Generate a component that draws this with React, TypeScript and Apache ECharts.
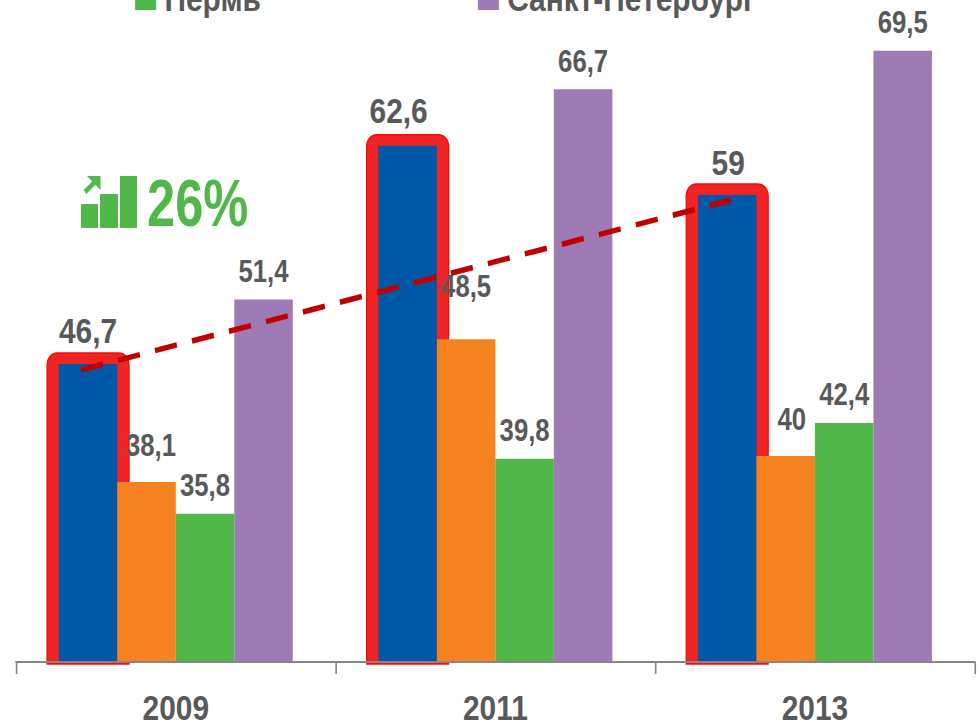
import React, { useEffect, useRef } from "react";
import * as echarts from "echarts";

const years = ["2009", "2011", "2013"];
const blueValues = [46.7, 62.6, 59];
const orangeValues = [38.1, 48.5, 40];
const greenValues = [35.8, 39.8, 42.4];
const purpleValues = [51.4, 66.7, 69.5];
const legendNames = ["Пермь", "Санкт-Петербург"];
const growthLabel = "26%";

const FONT = "'Liberation Sans', Arial, sans-serif";
const GREY = "#595959";
const W = 978, H = 722;
// The reference's type is condensed, and no narrow face is installed: the chart is laid out wider and squeezed.
const S = 0.83;
const X = (x: number) => x / S;
const BAR_W = X(58.5);

const fmt = (p: any) => String(p.value).replace(".", ",");

const labelOf = (dist: number, fontSize: number) => ({
  show: true, position: "top" as const, distance: dist, formatter: fmt,
  fontFamily: FONT, fontWeight: "bold" as const, fontSize, color: GREY,
});

const withOffsets = (vals: number[], offs: number[][]) =>
  vals.map((value, i) => ({ value, label: { offset: offs[i].map((o, k) => (k === 0 ? X(o) : o)) } }));

export default function App() {
  const ref = useRef<HTMLDivElement>(null);
  useEffect(() => {
    const chart = echarts.init(ref.current!, undefined, { renderer: "svg" });
    const G = "#50B848";
    chart.setOption({
      animation: false,
      backgroundColor: "#fff",
      grid: { left: X(16), right: X(3), top: 44, bottom: 60, outerBoundsMode: "none" },
      legend: {
        data: legendNames, left: X(131), top: -25, itemWidth: X(21), itemHeight: 24, itemGap: X(217),
        icon: "rect", selectedMode: false,
        textStyle: { fontFamily: FONT, fontWeight: "bold", fontSize: 36, color: GREY, padding: [0, 0, 0, 5] },
      },
      xAxis: {
        type: "category", data: years, z: 10,
        axisLine: { lineStyle: { color: "#868686", width: 2 } },
        axisTick: { show: true, length: 12, lineStyle: { color: "#868686", width: 2 } },
        axisLabel: { fontFamily: FONT, fontWeight: "bold", fontSize: 36, color: GREY, margin: 27 },
      },
      yAxis: { type: "value", min: 25, max: 70, show: false, splitLine: { show: false } },
      series: [
        {
          type: "custom", z: 1, silent: true,
          data: blueValues.map((v, i) => [i, v]),
          renderItem: (_p: any, api: any) => {
            const [cx, top] = api.coord([api.value(0), api.value(1)]);
            const [, base] = api.coord([api.value(0), 25]);
            const left = cx - 1.5 * BAR_W - X(41);
            return {
              type: "rect",
              shape: { x: left, y: top - 11, width: X(82), height: base - top + 13, r: [12, 12, 0, 0] },
              style: { fill: "#EE2524", stroke: "#FF0505", lineWidth: 1.5 },
            };
          },
        },
        {
          type: "bar", barWidth: BAR_W, barGap: 0, z: 2,
          itemStyle: { color: "#0058A8" },
          label: labelOf(15, 36),
          data: withOffsets(blueValues, [[0, -1], [-9, -2], [1, 0]]),
        },
        {
          type: "bar", barWidth: BAR_W, z: 3, itemStyle: { color: "#F58220" },
          label: labelOf(13, 31),
          data: withOffsets(orangeValues, [[4.5, -8], [0, -25], [6, -8]]),
        },
        {
          type: "bar", name: legendNames[0], barWidth: BAR_W, z: 3, itemStyle: { color: G },
          label: labelOf(13, 31),
          data: greenValues,
        },
        {
          type: "bar", name: legendNames[1], barWidth: BAR_W, z: 3, itemStyle: { color: "#9E7BB5" },
          label: labelOf(13, 31),
          data: purpleValues,
        },
      ],
      graphic: [
        {
          type: "line", z: 20,
          shape: { x1: X(81), y1: 370, x2: X(731), y2: 200 },
          style: { stroke: "#C00000", lineWidth: 5.5, lineDash: [27, 18.6] },
        },
        { type: "rect", z: 20, shape: { x: X(81), y: 204, width: X(17), height: 24, r: 1 }, style: { fill: G } },
        { type: "rect", z: 20, shape: { x: X(100), y: 194, width: X(18), height: 34, r: 1 }, style: { fill: G } },
        { type: "rect", z: 20, shape: { x: X(120), y: 176, width: X(17), height: 52, r: 1 }, style: { fill: G } },
        { type: "line", z: 20, shape: { x1: X(85), y1: 192, x2: X(97), y2: 180 }, style: { stroke: G, lineWidth: 5 } },
        { type: "polygon", z: 20, shape: { points: [[X(87), 176], [X(100.5), 176], [X(100.5), 190]] }, style: { fill: G } },
        {
          type: "text", z: 20, x: X(147), y: 169, scaleX: 0.91,
          style: { text: growthLabel, fontFamily: FONT, fontWeight: "bold", fontSize: 67, fill: G },
        },
      ],
    });
    return () => chart.dispose();
  }, []);
  return (
    <div style={{ position: "fixed", left: 0, top: 0, width: W, height: H, overflow: "hidden" }}>
      <div
        ref={ref}
        style={{ width: W / S, height: H, transform: `scaleX(${S})`, transformOrigin: "0 0" }}
      />
    </div>
  );
}
